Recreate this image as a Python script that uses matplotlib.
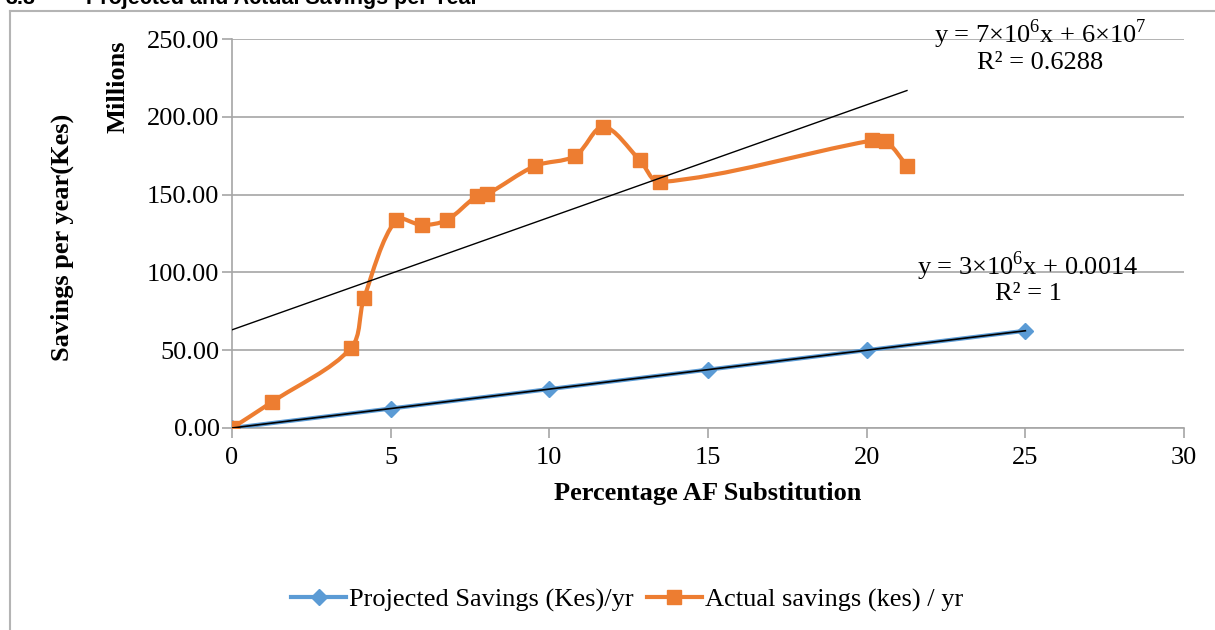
import matplotlib
matplotlib.use('Agg')
import matplotlib.pyplot as plt
from matplotlib.path import Path
from matplotlib.patches import PathPatch
from matplotlib.lines import Line2D
import numpy as np

# Projected savings per year (millions of Kes) against % AF substitution
projX = [0, 5, 10, 15, 20, 25]
projY = [0, 12.5, 25.0, 37.5, 50.0, 62.5]

# Actual savings per year (millions of Kes)
actX = [0, 1.26, 3.75, 4.16, 5.17, 5.98, 6.77, 7.71, 8.03, 9.55, 10.81,
        11.70, 12.85, 13.49, 20.17, 20.61, 21.27]
actY = [0, 16.7, 51.4, 83.5, 133.7, 130.5, 133.7, 149.0, 150.2, 168.4, 174.8,
        193.6, 172.2, 158.0, 184.8, 184.4, 168.3]

xTicks = [0, 5, 10, 15, 20, 25, 30]
yTicks = [0, 50, 100, 150, 200, 250]

blue = '#5B9BD5'
orange = '#ED7D31'
grey = '#A6A6A6'
fs = 19

plt.rcParams['font.family'] = ['Liberation Serif', 'DejaVu Serif']
plt.rcParams['mathtext.fontset'] = 'custom'
plt.rcParams['mathtext.rm'] = 'Liberation Serif'


# Excel style smoothed line: cubic Beziers whose handles are scaled by the
# neighbouring segment lengths (measured on screen) so short segments don't loop
def smooth_path(ax, x, y):
    pts = np.column_stack([x, y]).astype(float)
    scr = ax.transData.transform(pts)
    n = len(pts)
    d = np.hypot(*np.diff(scr, axis=0).T)
    verts = [pts[0]]
    codes = [Path.MOVETO]
    for i in range(n - 1):
        p0 = pts[i - 1] if i > 0 else pts[i]
        p1 = pts[i]
        p2 = pts[i + 1]
        p3 = pts[i + 2] if i + 2 < n else pts[i + 1]
        dPrev = d[i - 1] if i > 0 else d[i]
        dNext = d[i + 1] if i + 2 < n else d[i]
        c1 = p1 + (p2 - p0) * d[i] / (dPrev + d[i]) / 3
        c2 = p2 - (p3 - p1) * d[i] / (d[i] + dNext) / 3
        verts += [c1, c2, p2]
        codes += [Path.CURVE4] * 3
    return Path(verts, codes)


W, H = 1215, 630
fig = plt.figure(figsize=(W / 100, H / 100), dpi=100)
ax = fig.add_axes([232 / W, 1 - 428 / H, (1184 - 232) / W, (428 - 39) / H])
ax.set_xlim(0, 30)
ax.set_ylim(0, 250)

# projected series
ax.add_patch(PathPatch(smooth_path(ax, projX, projY), fill=False, edgecolor=blue, lw=3,
                       capstyle='round', joinstyle='round', zorder=3))
ax.plot(projX, projY, ls='none', marker='D', ms=8.5, color=blue, zorder=4)

# actual series
ax.add_patch(PathPatch(smooth_path(ax, actX, actY), fill=False, edgecolor=orange, lw=3,
                       capstyle='round', joinstyle='round', zorder=5))
ax.plot(actX, actY, ls='none', marker='s', ms=10, color=orange, zorder=6)

# linear trendlines
fitA = np.polyfit(actX, actY, 1)
xa = np.array([0, max(actX)])
ax.plot(xa, np.polyval(fitA, xa), color='black', lw=1, zorder=7)
fitP = np.polyfit(projX, projY, 1)
xp = np.array([0, max(projX)])
ax.plot(xp, np.polyval(fitP, xp), color='black', lw=1.2, zorder=7)

ax.set_xticks(xTicks)
ax.set_yticks(yTicks)
ax.set_yticklabels([f'{v:.2f}' for v in yTicks])
ax.tick_params(axis='both', labelsize=fs, colors=grey, labelcolor='black',
               length=7, width=1.2, direction='out')
ax.tick_params(axis='x', pad=7)
ax.tick_params(axis='y', pad=2)
ax.grid(axis='y', color=grey, lw=1.2)
ax.set_axisbelow(True)
for s in ['top', 'right']:
    ax.spines[s].set_visible(False)
for s in ['left', 'bottom']:
    ax.spines[s].set_color(grey)
    ax.spines[s].set_linewidth(1.2)

ax.set_xlabel('Percentage AF Substitution', fontsize=fs, fontweight='bold', labelpad=9)
fig.text(62 / W, 1 - 237 / H, 'Savings per year(Kes)', rotation=90, fontsize=fs,
         fontweight='bold', ha='center', va='center')
fig.text(118 / W, 1 - 87 / H, 'Millions', rotation=90, fontsize=fs,
         fontweight='bold', ha='center', va='center')

# trendline equations
fig.text(1040 / W, 1 - 34 / H, r'y = 7×10$^{6}$x + 6×10$^{7}$', fontsize=fs,
         ha='center', va='center')
fig.text(1040 / W, 1 - 63 / H, 'R² = 0.6288', fontsize=fs, ha='center', va='center')
fig.text(1028 / W, 1 - 266 / H, r'y = 3×10$^{6}$x + 0.0014', fontsize=fs,
         ha='center', va='center')
fig.text(1028 / W, 1 - 294 / H, 'R² = 1', fontsize=fs, ha='center', va='center')

# clipped section heading at the very top
fig.text(6 / W, 1 - 4 / H, '3.8', fontsize=15.5, fontweight='bold',
         family='Liberation Sans', va='baseline')
fig.text(86 / W, 1 - 4 / H, 'Projected and Actual Savings per Year', fontsize=15.5,
         fontweight='bold', family='Liberation Sans', va='baseline')

# chart frame (left and top edges)
fig.add_artist(Line2D([10 / W, 10 / W], [0, 1 - 11 / H], transform=fig.transFigure,
                      color='#B4B4B4', lw=1.5))
fig.add_artist(Line2D([10 / W, 1], [1 - 11 / H, 1 - 11 / H], transform=fig.transFigure,
                      color='#B4B4B4', lw=1.5))

handles = [Line2D([], [], color=blue, lw=3, marker='D', ms=8.5),
           Line2D([], [], color=orange, lw=3, marker='s', ms=10)]
fig.legend(handles, ['Projected Savings (Kes)/yr', 'Actual savings (kes) / yr'],
           loc='center', bbox_to_anchor=(627 / W, 1 - 600 / H), ncol=2, frameon=False,
           fontsize=fs, handlelength=2.1, handletextpad=0.1, columnspacing=0.5)

fig.savefig('out.png', dpi=100)
